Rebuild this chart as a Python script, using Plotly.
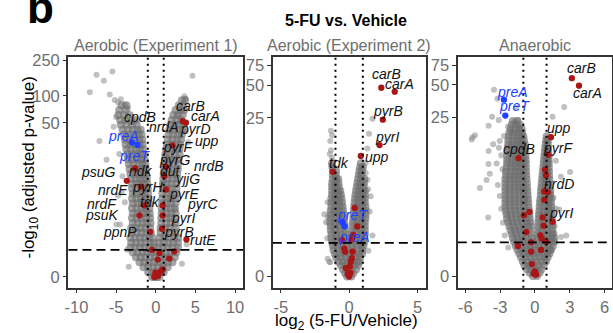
import numpy as np
import plotly.graph_objects as go

FONT = "Liberation Sans, Arial, sans-serif"

# ---------------------------------------------------------------------------
# Aerobic (Experiment 1)
# dense band of genes, rows of (-log10 padj, [log2 fold change, ...])
aer1_core = [
    (0.0, [-0.45, -0.15, 0.15, 0.45]),
    (0.13, [-0.95, -0.4, 0.15, 0.7, 1.0]),
    (0.28, [-1.55, -0.95, -0.35, 0.25, 0.85, 1.5]),
    (0.46, [-2.05, -1.45, -0.85, -0.25, 0.35, 0.95, 1.55, 2.1]),
    (0.65, [-2.5, -1.9, -1.3, -0.7, -0.1, 0.5, 1.1, 1.7, 2.4]),
    (0.87, [-2.9, -2.3, -1.7, -1.1, -0.5, 0.1, 0.7, 1.3, 1.9, 2.6]),
    (1.12, [-3.2, -2.6, -2.0, -1.4, -0.8, -0.25, 0.35, 0.9, 1.5, 2.1, 2.8]),
    (1.40, [-3.1, -2.5, -1.9, -1.3, -0.7, -0.25, 0.4, 1.0, 1.6, 2.2, 2.8]),
    (1.72, [-3.2, -2.6, -2.0, -1.4, -0.85, -0.4, 0.5, 1.1, 1.7, 2.3, 2.85]),
    (2.08, [-3.0, -2.4, -1.8, -1.2, -0.6, 0.6, 1.2, 1.8, 2.5]),
    (2.49, [-3.1, -2.5, -1.9, -1.3, -0.7, 0.6, 1.2, 1.8, 2.5]),
    (2.96, [-2.9, -2.3, -1.7, -1.15, -0.65, 0.7, 1.3, 1.9, 2.5]),
    (3.49, [-3.0, -2.4, -1.8, -1.2, -0.7, 0.7, 1.3, 1.9, 2.4]),
    (4.09, [-2.9, -2.3, -1.7, -1.15, -0.75, 0.75, 1.35, 1.95, 2.5]),
    (4.77, [-3.0, -2.4, -1.8, -1.3, -0.8, 0.75, 1.3, 1.85, 2.4]),
    (5.53, [-2.9, -2.3, -1.75, -1.25, -0.85, 0.8, 1.35, 1.9, 2.5]),
    (6.41, [-3.0, -2.4, -1.85, -1.35, -0.9, 0.8, 1.35, 1.9, 2.5]),
    (7.40, [-2.9, -2.35, -1.85, -1.4, -0.95, 0.85, 1.4, 2.0, 2.6]),
    (8.51, [-3.0, -2.45, -1.9, -1.45, -1.0, 0.9, 1.45, 2.0, 2.6]),
    (9.78, [-3.0, -2.45, -1.95, -1.5, -1.05, 0.9, 1.4, 2.0, 2.6]),
    (11.2, [-3.1, -2.5, -2.0, -1.55, -1.1, 0.95, 1.5, 2.1, 2.7]),
    (12.8, [-3.2, -2.6, -2.05, -1.6, -1.2, 1.0, 1.55, 2.1, 2.7]),
    (14.7, [-3.3, -2.7, -2.15, -1.65, -1.25, 1.05, 1.6, 2.2, 2.8]),
    (16.8, [-3.4, -2.8, -2.2, -1.7, -1.3, 1.1, 1.65, 2.2, 2.8]),
    (19.1, [-3.5, -2.9, -2.3, -1.8, -1.4, 1.15, 1.7, 2.3, 2.9]),
    (21.8, [-3.6, -3.0, -2.4, -1.9, -1.5, 1.2, 1.8, 2.4, 3.0]),
    (24.9, [-3.7, -3.1, -2.5, -2.0, -1.6, 1.3, 1.9, 2.5, 3.0]),
    (28.3, [-3.8, -3.2, -2.6, -2.05, -1.65, 1.4, 2.0, 2.6, 3.1]),
    (32.2, [-3.9, -3.3, -2.7, -2.1, -1.7, 1.5, 2.1, 2.7, 3.2]),
    (36.7, [-4.0, -3.4, -2.8, -2.2, -1.8, 1.6, 2.2, 2.8, 3.3]),
    (41.7, [-4.2, -3.5, -2.9, -2.3, -1.9, 1.7, 2.3, 2.9, 3.4]),
    (47.4, [-4.4, -3.7, -3.0, -2.4, 1.85, 2.4, 3.0, 3.5]),
    (53.8, [-4.5, -3.8, -3.1, -2.5, 2.0, 2.6, 3.2]),
    (61.1, [-4.7, -4.0, -3.3, 2.2, 2.8, 3.4]),
    (69.5, [-4.6, -3.8, 2.5, 3.1, 3.6]),
    (78.8, [-4.3, -3.7, 2.9, 3.5]),
    (89.5, [3.3, 3.7]),
]
# scattered genes, (log2 fold change, -log10 padj)
aer1_sparse = [
    (-7.46, 172), (-5.46, 187), (-6.54, 148), (4.63, 168), (-8.3, 110),
    (-5.8, 104), (-5.17, 90), (-4.4, 92), (-4.75, 85), (-3.9, 80),
    (-3.5, 73), (-5.0, 58), (-5.3, 45), (-7.1, 31), (-6.2, 18.8),
    (3.6, 99), (3.75, 93), (2.75, 60), (-4.75, 7.0), (-4.96, 2.8),
    (-4.3, 7.6), (-3.9, 5.7), (-4.5, 2.8), (2.5, 4.6), (3.9, 1.3),
    (2.75, 1.0), (-4.2, 12), (-4.6, 22), (4.1, 30), (3.8, 40),
    (-3.6, 1.0), (3.3, 0.4), (-3.4, 0.3),
]
# pyrimidine metabolism genes (red)
aer1_pyr = [
    (3.4, 52), (3.8, 50), (2.1, 27.7), (1.3, 15.6), (1.08, 12.1),
    (1.29, 8.3), (0.875, 5.2), (0.875, 3.8), (0.79, 2.43), (-2.6, 14.9),
    (-3.65, 10.6), (-1.83, 9.0), (-1.41, 5.2), (-2.04, 3.8), (-0.71, 2.16),
    (-0.46, 1.0), (0.46, 0.84), (0.25, 0.56), (1.71, 0.6), (2.33, 0.92),
    (3.87, 1.6), (-0.17, 0.0), (0.04, 0.07), (0.67, 0.16), (0.875, 0.21),
    (0.3, 0.03), (-0.05, 0.12),
]
# preTA operon (blue)
aer1_pre = [(-3.0, 29.8), (-2.3, 28.0)]
aer1_genes = [
    ("carB", "pyr"), ("carA", "pyr"), ("cpdB", "pyr"), ("nrdA", "pyr"),
    ("pyrD", "pyr"), ("upp", "pyr"), ("preA", "pre"), ("pyrF", "pyr"),
    ("preT", "pre"), ("pyrG", "pyr"), ("psuG", "pyr"), ("ndk", "pyr"),
    ("dut", "pyr"), ("nrdB", "pyr"), ("yjjG", "pyr"), ("nrdE", "pyr"),
    ("pyrH", "pyr"), ("pyrE", "pyr"), ("nrdF", "pyr"), ("tdk", "pyr"),
    ("pyrC", "pyr"), ("psuK", "pyr"), ("pyrI", "pyr"), ("ppnP", "pyr"),
    ("pyrB", "pyr"), ("rutE", "pyr"),
]
aer1_label_pos = [
    (4.33, 77.5), (6.3, 60), (-1.96, 58.6), (1.1, 44.7),
    (5.04, 42), (6.5, 30.8), (-4.1, 35.5), (2.75, 26.2),
    (-2.66, 21.1), (2.33, 18.8), (-7.25, 13.6), (-1.83, 14),
    (1.92, 14), (6.7, 15.8), (4.0, 11.2), (-5.4, 8.3),
    (-1.0, 9.0), (3.58, 7.2), (-6.83, 5.4), (-0.71, 5.8),
    (5.9, 5.4), (-6.83, 3.9), (3.4, 3.5), (-4.54, 2.16),
    (2.96, 2.16), (5.9, 1.57),
]

# ---------------------------------------------------------------------------
# Aerobic (Experiment 2)
aer2_core = [
    (0.0, [-0.15, 0.15]),
    (0.07, [-0.3, 0.0, 0.3]),
    (0.16, [-0.45, -0.15, 0.15, 0.5]),
    (0.26, [-0.6, -0.25, 0.05, 0.35, 0.65]),
    (0.36, [-0.8, -0.45, -0.1, 0.25, 0.6, 0.75]),
    (0.48, [-0.95, -0.6, -0.25, 0.1, 0.45, 0.8]),
    (0.60, [-1.05, -0.7, -0.35, 0.0, 0.35, 0.7, 0.95]),
    (0.73, [-1.15, -0.8, -0.45, -0.1, 0.25, 0.6, 0.95]),
    (0.88, [-1.2, -0.85, -0.5, -0.15, 0.2, 0.55, 0.9, 1.05]),
    (1.04, [-1.25, -0.9, -0.55, -0.2, 0.15, 0.5, 0.85, 1.1]),
    (1.21, [-1.3, -0.95, -0.6, -0.2, 0.2, 0.5, 0.8, 1.1]),
    (1.40, [-1.3, -0.95, -0.6, -0.25, 0.2, 0.55, 0.9, 1.15]),
    (1.60, [-1.35, -1.0, -0.65, -0.3, 0.25, 0.55, 0.85, 1.15]),
    (1.82, [-1.35, -1.0, -0.65, -0.33, 0.25, 0.6, 0.9, 1.15]),
    (2.06, [-1.4, -1.05, -0.7, -0.35, 0.28, 0.6, 0.9, 1.15]),
    (2.31, [-1.35, -1.0, -0.7, -0.4, 0.3, 0.6, 0.9, 1.2]),
    (2.59, [-1.35, -1.0, -0.7, -0.42, 0.32, 0.62, 0.92, 1.2]),
    (2.89, [-1.35, -1.05, -0.75, -0.45, 0.34, 0.65, 0.95, 1.2]),
    (3.22, [-1.3, -1.0, -0.72, -0.48, 0.36, 0.65, 0.95, 1.2]),
    (3.58, [-1.3, -1.0, -0.75, -0.52, 0.4, 0.68, 0.95, 1.15]),
    (3.96, [-1.3, -1.02, -0.78, -0.56, 0.42, 0.7, 0.95, 1.15]),
    (4.38, [-1.25, -1.0, -0.8, -0.6, 0.46, 0.72, 0.95, 1.15]),
    (4.83, [-1.25, -1.0, -0.8, -0.65, 0.5, 0.75, 1.0, 1.15]),
    (5.32, [-1.25, -1.0, -0.75, 0.55, 0.8, 1.05]),
    (5.85, [-1.25, -1.0, -0.78, 0.6, 0.85, 1.1]),
    (6.43, [-1.2, -0.95, -0.8, 0.65, 0.9, 1.1]),
    (7.05, [-1.2, -0.98, 0.7, 0.92]),
    (7.73, [-1.2, -0.95, 0.75, 0.95]),
    (8.46, [-1.22, 0.8, 1.0]),
    (9.26, [-1.25, 0.85]),
]
aer2_sparse = [
    (1.7, 24.5), (1.45, 17.8), (1.33, 12.9), (1.21, 9.3), (-1.33, 19),
    (-1.25, 17.2), (-1.38, 15.2), (-1.33, 12.4), (-1.42, 11.4), (-1.25, 10.4),
    (-1.3, 9.0), (-1.81, 2.6), (-1.57, 2.4), (-1.57, 0.44), (-1.38, 0.34),
    (0.97, 8.6), (1.21, 7.4), (1.33, 6.3), (1.38, 5.0), (1.57, 4.2),
    (1.7, 1.33), (-1.57, 3.6), (-1.69, 2.06), (1.5, 2.8), (1.4, 0.7),
    (-1.6, 1.2), (-1.45, 0.36),
]
aer2_pyr = [
    (2.35, 47.3), (3.33, 43.6), (2.46, 24.1), (2.22, 13.9), (0.85, 10.9),
    (-1.2, 7.6), (0.41, 3.1), (0.6, 1.8), (0.29, 1.36), (0.2, 1.15),
    (-0.53, 1.11), (-0.36, 0.78), (-0.29, 0.67), (-0.24, 0.19), (0.25, 0.67),
    (0.2, 0.46), (0.12, 0.36), (0.05, 0.23), (0.0, 0.0), (-0.1, 0.05),
    (0.1, 0.08),
]
aer2_pre = [(-0.48, 2.06), (-0.33, 1.81)]
aer2_genes = [
    ("carB", "pyr"), ("carA", "pyr"), ("pyrB", "pyr"), ("pyrI", "pyr"),
    ("upp", "pyr"), ("tdk", "pyr"), ("preT", "pre"), ("preA", "pre"),
]
aer2_label_pos = [
    (2.73, 63), (3.7, 51.4), (2.83, 28.8), (2.73, 16.6),
    (2.0, 10.7), (-0.72, 9.4), (0.25, 2.54), (0.41, 1.26),
]

# ---------------------------------------------------------------------------
# Anaerobic
ana_core = [
    (0.0, [-0.18, 0.18]),
    (0.07, [-0.45, -0.05, 0.4]),
    (0.15, [-0.7, -0.3, 0.1, 0.55]),
    (0.25, [-0.9, -0.5, -0.1, 0.3, 0.75]),
    (0.35, [-1.05, -0.65, -0.25, 0.15, 0.55, 0.95]),
    (0.47, [-1.2, -0.8, -0.4, 0.0, 0.4, 0.8, 1.1]),
    (0.59, [-1.35, -0.95, -0.55, -0.15, 0.25, 0.65, 1.05, 1.25]),
    (0.72, [-1.5, -1.1, -0.7, -0.3, 0.1, 0.5, 0.9, 1.3, 1.4]),
    (0.86, [-1.65, -1.25, -0.85, -0.45, -0.05, 0.35, 0.75, 1.15, 1.55]),
    (1.02, [-1.8, -1.4, -1.0, -0.6, -0.2, 0.2, 0.6, 1.0, 1.4, 1.65]),
    (1.19, [-1.9, -1.5, -1.1, -0.7, -0.25, 0.25, 0.65, 1.05, 1.45, 1.65]),
    (1.37, [-2.0, -1.6, -1.2, -0.8, -0.35, 0.25, 0.65, 1.05, 1.45, 1.6]),
    (1.57, [-2.1, -1.7, -1.3, -0.9, -0.45, 0.25, 0.65, 1.05, 1.5]),
    (1.78, [-2.2, -1.8, -1.4, -1.0, -0.6, -0.35, 0.28, 0.68, 1.08, 1.5]),
    (2.02, [-2.3, -1.9, -1.5, -1.1, -0.7, -0.4, 0.3, 0.7, 1.1, 1.5]),
    (2.27, [-2.4, -2.0, -1.6, -1.2, -0.8, -0.45, 0.32, 0.72, 1.1, 1.45]),
    (2.54, [-2.45, -2.05, -1.65, -1.25, -0.85, -0.48, 0.35, 0.75, 1.1, 1.45]),
    (2.84, [-2.5, -2.1, -1.7, -1.3, -0.9, -0.5, 0.38, 0.78, 1.12, 1.42]),
    (3.16, [-2.55, -2.15, -1.75, -1.35, -0.95, -0.55, 0.4, 0.8, 1.15, 1.42]),
    (3.51, [-2.55, -2.15, -1.75, -1.35, -0.95, -0.57, 0.43, 0.82, 1.15, 1.38]),
    (3.88, [-2.55, -2.15, -1.75, -1.35, -0.95, -0.6, 0.46, 0.85, 1.15, 1.38]),
    (4.29, [-2.55, -2.15, -1.75, -1.35, -0.98, -0.62, 0.5, 0.88, 1.2, 1.33]),
    (4.74, [-2.55, -2.15, -1.75, -1.35, -1.0, -0.65, 0.52, 0.9, 1.2, 1.33]),
    (5.22, [-2.55, -2.15, -1.75, -1.4, -1.05, -0.68, 0.55, 0.92, 1.22]),
    (5.74, [-2.55, -2.15, -1.75, -1.4, -1.05, -0.7, 0.58, 0.95, 1.25]),
    (6.31, [-2.55, -2.15, -1.8, -1.45, -1.1, -0.72, 0.62, 0.95, 1.25]),
    (6.92, [-2.5, -2.1, -1.75, -1.4, -1.08, -0.74, 0.65, 0.98, 1.22]),
    (7.59, [-2.5, -2.1, -1.75, -1.4, -1.08, -0.76, 0.68, 1.0, 1.22]),
    (8.31, [-2.45, -2.05, -1.7, -1.4, -1.08, -0.77, 0.72, 1.0, 1.2]),
    (9.1, [-2.4, -2.0, -1.7, -1.4, -1.08, -0.78, 0.75, 1.02, 1.2]),
    (9.9, [-2.4, -2.0, -1.65, -1.35, -1.08, -0.8, 0.78, 1.05, 1.18]),
    (10.8, [-2.4, -2.0, -1.65, -1.35, -1.08, -0.8, 0.8, 1.05, 1.18]),
    (11.8, [-2.35, -1.95, -1.6, -1.3, -1.05, -0.82, 0.84, 1.08, 1.16]),
    (12.9, [-2.35, -1.95, -1.6, -1.3, -1.05, -0.84, 0.88, 1.1]),
    (14.0, [-2.3, -1.95, -1.6, -1.3, -1.05, -0.87, 0.92, 1.12]),
    (15.3, [-2.3, -1.9, -1.55, -1.25, -0.95, 0.96, 1.12]),
    (16.7, [-2.25, -1.85, -1.5, -1.2, -1.0, 1.02]),
    (18.1, [-2.2, -1.8, -1.45, -1.1]),
    (19.7, [-2.1, -1.7, -1.35, -1.15]),
    (21.5, [-2.0, -1.6, -1.3]),
    (23.3, [-1.9, -1.5]),
]
ana_sparse = [
    (-3.52, 45.2), (-3.23, 37.4), (-1.6, 30.8), (-3.69, 25.5), (-3.12, 23.8),
    (-3.99, 21), (-5.17, 17.1), (-5.37, 16.4), (-2.67, 16.8), (-2.32, 20.7),
    (-2.03, 18.6), (-1.75, 23), (-1.47, 23.8), (-3.99, 12.1), (-3.6, 14),
    (2.52, 31.4), (1.52, 25.5), (-4.0, 9.0), (-3.89, 7.2), (1.81, 9.7),
    (2.24, 6.7), (3.03, 7.5), (-4.74, 5.1), (-4.03, 2.34), (-2.75, 2.0),
    (2.24, 1.23), (-5.45, 15.6), (-3.03, 15.1), (-3.3, 9.1), (-4.17, 6.2),
    (-3.03, 4.2), (2.09, 2.94), (2.7, 1.3), (-2.9, 3.0), (-3.2, 5.5),
    (-2.8, 8.0), (-2.9, 11), (-3.1, 13), (1.6, 4.0), (1.8, 3.0),
    (1.7, 1.8), (-2.6, 1.3), (-2.3, 0.8),
]
ana_pyr = [
    (3.18, 57.5), (3.8, 49.1), (1.38, 16.4), (1.15, 11.1), (-1.41, 10.3),
    (0.87, 7.9), (0.96, 6.95), (0.81, 4.7), (1.1, 4.6), (0.81, 3.8),
    (0.67, 2.34), (0.75, 1.82), (1.52, 2.06), (-0.47, 2.74), (-0.96, 2.5),
    (-0.75, 1.47), (-0.33, 1.0), (-1.47, 0.86), (0.47, 1.31), (0.58, 1.16),
    (0.96, 1.02), (-0.33, 0.65), (0.53, 0.71), (-0.27, 0.28), (0.0, 0.1),
    (-0.1, 0.05), (0.1, 0.03),
]
ana_pre = [(-2.67, 36.6), (-2.55, 26.1)]
ana_genes = [
    ("carB", "pyr"), ("carA", "pyr"), ("preA", "pre"), ("preT", "pre"),
    ("upp", "pyr"), ("pyrF", "pyr"), ("cpdB", "pyr"), ("nrdD", "pyr"),
    ("pyrI", "pyr"),
]
ana_label_pos = [
    (4.03, 71.4), (4.51, 42.3), (-1.9, 42.8), (-1.75, 32),
    (2.09, 20), (2.0, 12.8), (-1.41, 12.6), (2.1, 5.6),
    (2.24, 2.69),
]

# axis ticks
aer1_xticks = [-10, -5, 0, 5, 10]
aer1_yticks = [0, 50, 100, 250]
aer2_xticks = [-5, 0, 5]
aer2_yticks = [0, 25, 50, 75]
ana_xticks = [-6, -3, 0, 3, 6]
ana_yticks = [0, 25, 50, 75]

# significance cutoffs
lfc_cut = 1.0
nlp_cut = 1.0

# ---------------------------------------------------------------------------
CORE_GRAY = "rgb(110,110,110)"
LIGHT_GRAY = "rgb(140,140,140)"
RED = "rgb(168,22,22)"
BLUE = "rgb(32,64,255)"
INK = "#333333"
TICK_GRAY = "#6e6e6e"


def pseudo_log(v):
    """-log10 padj shown on a log10(1 + value) scale."""
    return np.log10(np.asarray(v, dtype=float) + 1.0)


panels = [
    dict(core=aer1_core, sparse=aer1_sparse, pyr=aer1_pyr, pre=aer1_pre,
         genes=aer1_genes, pos=aer1_label_pos, xt=aer1_xticks, yt=aer1_yticks,
         title="Aerobic (Experiment 1)",
         xdom=[65 / 613, 241 / 613], xr=[-11, 11], yr=[-0.12, 2.44]),
    dict(core=aer2_core, sparse=aer2_sparse, pyr=aer2_pyr, pre=aer2_pre,
         genes=aer2_genes, pos=aer2_label_pos, xt=aer2_xticks, yt=aer2_yticks,
         title="Aerobic (Experiment 2)",
         xdom=[271 / 613, 425 / 613], xr=[-5.58, 5.58], yr=[-0.1, 1.962]),
    dict(core=ana_core, sparse=ana_sparse, pyr=ana_pyr, pre=ana_pre,
         genes=ana_genes, pos=ana_label_pos, xt=ana_xticks, yt=ana_yticks,
         title="Anaerobic",
         xdom=[457.5 / 613, 612.5 / 613], xr=[-6.65, 6.6], yr=[-0.105, 1.96]),
]

YDOM = [1 - 287 / 333, 1 - 51.5 / 333]

fig = go.Figure()
layout = dict(
    width=613, height=333, margin=dict(l=0, r=0, t=0, b=0),
    paper_bgcolor="white", plot_bgcolor="white", showlegend=False,
    font=dict(family=FONT, color="black"),
)
annotations = []
shapes = []

for i, p in enumerate(panels, start=1):
    sfx = "" if i == 1 else str(i)
    xa, ya = "x" + sfx, "y" + sfx

    # scattered background genes
    fig.add_trace(go.Scatter(
        x=[s[0] for s in p["sparse"]], y=pseudo_log([s[1] for s in p["sparse"]]),
        mode="markers", xaxis=xa, yaxis=ya,
        marker=dict(size=6, color=LIGHT_GRAY, opacity=0.55, line=dict(width=0)),
        hoverinfo="skip"))
    # dense band of background genes
    cx = [x for v, xs in p["core"] for x in xs]
    cv = [v for v, xs in p["core"] for _ in xs]
    fig.add_trace(go.Scatter(
        x=cx, y=pseudo_log(cv), mode="markers", xaxis=xa, yaxis=ya,
        marker=dict(size=8, color=CORE_GRAY, opacity=0.62, line=dict(width=0)),
        hoverinfo="skip"))
    fig.add_trace(go.Scatter(
        x=[s[0] for s in p["pyr"]], y=pseudo_log([s[1] for s in p["pyr"]]),
        mode="markers", xaxis=xa, yaxis=ya,
        marker=dict(size=6.3, color=RED, line=dict(width=0))))
    fig.add_trace(go.Scatter(
        x=[s[0] for s in p["pre"]], y=pseudo_log([s[1] for s in p["pre"]]),
        mode="markers", xaxis=xa, yaxis=ya,
        marker=dict(size=6.3, color=BLUE, line=dict(width=0))))

    axis_common = dict(
        showline=True, mirror=True, linecolor=INK, linewidth=1.8,
        ticks="outside", ticklen=3.5, tickwidth=1.3, tickcolor=INK,
        tickfont=dict(size=16.5, color=TICK_GRAY, family=FONT),
        showgrid=False, zeroline=False, fixedrange=True,
    )
    layout["xaxis" + sfx] = dict(
        axis_common, domain=p["xdom"], range=p["xr"], anchor=ya,
        tickvals=p["xt"], ticktext=[str(t) for t in p["xt"]])
    layout["yaxis" + sfx] = dict(
        axis_common, domain=YDOM, range=p["yr"], anchor=xa,
        tickvals=list(pseudo_log(p["yt"])), ticktext=[str(t) for t in p["yt"]])

    # cutoff lines
    shapes.append(dict(type="line", xref=xa + " domain", yref=ya,
                       x0=0, x1=1, y0=float(pseudo_log(nlp_cut)),
                       y1=float(pseudo_log(nlp_cut)),
                       line=dict(color="black", width=1.8, dash="9px,5px")))
    for xv in (-lfc_cut, lfc_cut):
        shapes.append(dict(type="line", xref=xa, yref=ya + " domain",
                           x0=xv, x1=xv, y0=0, y1=1,
                           line=dict(color="black", width=2, dash="2px,4px")))

    # gene labels
    for (gene, kind), (lx, lv) in zip(p["genes"], p["pos"]):
        annotations.append(dict(
            x=lx, y=float(pseudo_log(lv)), xref=xa, yref=ya,
            text="<i>%s</i>" % gene, showarrow=False,
            font=dict(size=14, family=FONT,
                      color=BLUE if kind == "pre" else "#111111")))

    # facet title
    annotations.append(dict(
        x=(p["xdom"][0] + p["xdom"][1]) / 2, y=1 - 40 / 333,
        xref="paper", yref="paper", text=p["title"], showarrow=False,
        xanchor="center", yanchor="middle",
        font=dict(size=16, color=TICK_GRAY, family=FONT)))

annotations += [
    dict(x=344.5 / 613, y=1 - 15 / 333, xref="paper", yref="paper",
         text="<b>5-FU vs. Vehicle</b>", showarrow=False,
         xanchor="center", yanchor="middle",
         font=dict(size=16, color="black", family=FONT)),
    dict(x=26.7 / 613, y=1 - 164 / 333, xref="paper", yref="paper",
         text="-log<sub>10</sub> (adjusted p-value)", showarrow=False,
         textangle=-90, xanchor="center", yanchor="middle",
         font=dict(size=17, color="black", family=FONT)),
    dict(x=345.5 / 613, y=1 - 321.5 / 333, xref="paper", yref="paper",
         text="log<sub>2</sub> (5-FU/Vehicle)", showarrow=False,
         xanchor="center", yanchor="middle",
         font=dict(size=17, color="black", family=FONT)),
    dict(x=21 / 613, y=1 - 29 / 333, xref="paper", yref="paper",
         text="<b>b</b>", showarrow=False, xanchor="left", yanchor="bottom",
         font=dict(size=44, color="black", family=FONT)),
]

layout["annotations"] = annotations
layout["shapes"] = shapes
fig.update_layout(**layout)
fig.write_html("out.html")
